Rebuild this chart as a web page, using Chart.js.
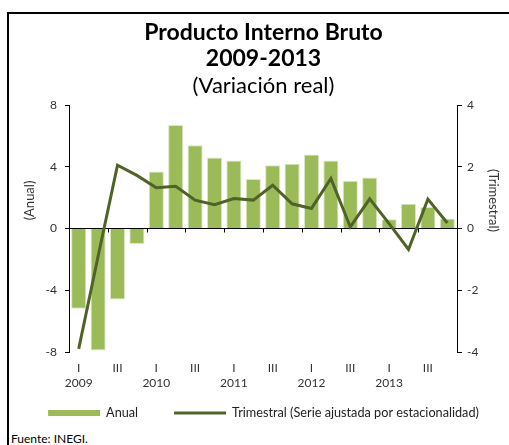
<!DOCTYPE html>
<html>
<head>
<meta charset="utf-8">
<script src="https://cdn.jsdelivr.net/npm/chart.js@4.4.1/dist/chart.umd.min.js"></script>
<style>
  html, body { margin: 0; padding: 0; background: #fff; overflow: hidden; width: 509px; height: 445px; }
  #frame { position: absolute; left: 7px; top: 12px; width: 520px; height: 450px; border-left: 2px solid #000; border-top: 2px solid #000; }
  #wrap { position: absolute; left: 0; top: 0; width: 509px; height: 416px; }
  #fuente { position: absolute; left: 2px; top: 417px; font: 12px Lato, sans-serif; color: #000; }
</style>
</head>
<body>
<div id="frame">
  <div id="wrap"><canvas id="pib"></canvas></div>
  <div id="fuente">Fuente: INEGI.</div>
</div>
<script>
// PIB 2009-2013, variacion real
const years = ['2009', '2010', '2011', '2012', '2013'];
const quarterNames = ['I', 'II', 'III', 'IV'];
const anual = [-5.2, -7.9, -4.6, -1.0, 3.7, 6.7, 5.4, 4.6, 4.4, 3.2, 4.1, 4.2, 4.8, 4.4, 3.1, 3.3, 0.6, 1.6, 1.4, 0.65];
const trimestral = [-3.9, -0.9, 2.05, 1.72, 1.32, 1.37, 0.92, 0.77, 0.97, 0.92, 1.40, 0.80, 0.65, 1.62, 0.05, 0.96, 0.16, -0.68, 0.95, 0.18];
const leftTicks = [-8, -4, 0, 4, 8];
const rightTicks = [-4, -2, 0, 2, 4];

const labels = [];
years.forEach(y => quarterNames.forEach(q => labels.push([q, y])));

const barColor = '#9BBB59';
const lineColor = '#4F6228';
const font = 'Lato';

// small marks on the zero line, every two quarters
const zeroTicks = {
    id: 'zeroTicks',
    afterDatasetsDraw(chart) {
        const x = chart.scales.x, y = chart.scales.yA;
        const y0 = y.getPixelForValue(0);
        const ctx = chart.ctx;
        ctx.save();
        ctx.strokeStyle = '#000';
        ctx.lineWidth = 1;
        for (let k = 2; k <= labels.length; k += 2) {
            const px = Math.round(x.getPixelForValue(k - 0.5)) + 0.5;
            ctx.beginPath();
            ctx.moveTo(px, y0);
            ctx.lineTo(px, y0 + 4);
            ctx.stroke();
        }
        ctx.restore();
    }
};

// rotated axis titles (they sit above the middle of the axis)
const axisTitles = {
    id: 'axisTitles',
    afterDraw(chart) {
        const ctx = chart.ctx;
        const area = chart.chartArea;
        const cy = (area.top + area.bottom) / 2 - 28;
        ctx.save();
        ctx.fillStyle = '#333';
        ctx.font = '13px ' + font;
        ctx.textAlign = 'center';
        ctx.textBaseline = 'middle';
        ctx.save();
        ctx.translate(chart.scales.yA.left + 21, cy);
        ctx.rotate(-Math.PI / 2);
        ctx.fillText('(Anual)', 0, 0);
        ctx.restore();
        ctx.translate(chart.scales.yB.right - 25, cy);
        ctx.rotate(Math.PI / 2);
        ctx.fillText('(Trimestral)', 0, 0);
        ctx.restore();
    }
};

// one-row legend with wide keys
const legendRow = {
    id: 'legendRow',
    afterDraw(chart) {
        const ctx = chart.ctx;
        const boxW = 52, textGap = 6, itemGap = 36;
        const y = chart.chartArea.bottom + 61;
        ctx.save();
        ctx.font = '12.7px ' + font;
        ctx.textBaseline = 'middle';
        const items = chart.data.datasets.map(ds => ({
            text: ds.label, type: ds.type,
            w: boxW + textGap + ctx.measureText(ds.label).width
        }));
        const total = items.reduce((s, it) => s + it.w, 0) + itemGap * (items.length - 1);
        let x = chart.width / 2 - total / 2;
        chart.data.datasets.forEach((ds, i) => {
            if (ds.type === 'bar') {
                ctx.fillStyle = ds.backgroundColor;
                ctx.fillRect(x, y - 3, boxW, 6);
            } else {
                ctx.strokeStyle = ds.borderColor;
                ctx.lineWidth = 3;
                ctx.beginPath();
                ctx.moveTo(x, y);
                ctx.lineTo(x + boxW, y);
                ctx.stroke();
            }
            ctx.fillStyle = '#222';
            ctx.fillText(ds.label, x + boxW + textGap, y);
            x += items[i].w + itemGap;
        });
        ctx.restore();
    }
};

const ctx = document.getElementById('pib').getContext('2d');
new Chart(ctx, {
    type: 'bar',
    data: {
        labels: labels,
        datasets: [{
            type: 'bar',
            label: 'Anual',
            data: anual,
            yAxisID: 'yA',
            backgroundColor: barColor,
            borderColor: '#dce8c6',
            borderWidth: 1,
            barPercentage: 0.78,
            categoryPercentage: 1,
            order: 2
        }, {
            type: 'line',
            label: 'Trimestral (Serie ajustada por estacionalidad)',
            data: trimestral,
            yAxisID: 'yB',
            borderColor: lineColor,
            backgroundColor: lineColor,
            borderWidth: 3,
            pointRadius: 0,
            tension: 0,
            order: 1
        }]
    },
    options: {
        responsive: true,
        maintainAspectRatio: false,
        animation: false,
        layout: { padding: { left: 0, right: 0, top: 0, bottom: 28 } },
        plugins: {
            title: {
                display: true,
                text: ['Producto Interno Bruto', '2009-2013'],
                color: '#000',
                font: { family: font, size: 23, weight: 'bold', lineHeight: 26 / 23 },
                padding: { top: 6, bottom: 3 }
            },
            subtitle: {
                display: true,
                text: '(Variación real)',
                color: '#000',
                font: { family: font, size: 22, lineHeight: 1 },
                padding: { top: 0, bottom: 8 }
            },
            legend: { display: false },
            tooltip: { enabled: false }
        },
        scales: {
            x: {
                grid: { display: false },
                border: { display: false },
                afterFit: s => { s.height = 50; },
                ticks: {
                    autoSkip: false,
                    maxRotation: 0,
                    padding: 0.5,
                    color: '#333',
                    font: { family: font, size: 12, lineHeight: 1.25 },
                    callback: (v, i) => i % 2 === 0 ? [labels[i][0], i % 4 === 0 ? labels[i][1] : ''] : ''
                }
            },
            yA: {
                position: 'left',
                min: -8,
                max: 8,
                afterFit: s => { s.width = 60; },
                afterBuildTicks: s => { s.ticks = leftTicks.map(v => ({ value: v })); },
                grid: {
                    drawOnChartArea: true,
                    color: c => (c.tick && c.tick.value === 0) ? '#000' : 'transparent',
                    tickColor: '#000',
                    tickLength: 4
                },
                border: { display: true, color: '#000' },
                ticks: { padding: 8, color: '#333', font: { family: font, size: 12 } }
            },
            yB: {
                position: 'right',
                min: -4,
                max: 4,
                afterFit: s => { s.width = 61; },
                afterBuildTicks: s => { s.ticks = rightTicks.map(v => ({ value: v })); },
                grid: { drawOnChartArea: false, tickColor: '#000', tickLength: 5 },
                border: { display: true, color: '#000' },
                ticks: { padding: 5, color: '#333', font: { family: font, size: 12 } }
            }
        }
    },
    plugins: [zeroTicks, axisTitles, legendRow]
});
</script>
</body>
</html>
